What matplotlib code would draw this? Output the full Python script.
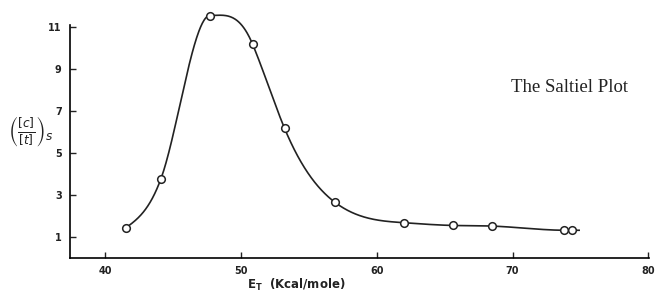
import numpy as np
import matplotlib
matplotlib.use("Agg")
import matplotlib.pyplot as plt

# data
e_t = [41.5, 44.1, 47.7, 50.85, 53.2, 56.9, 62.0, 65.6, 68.5, 73.8, 74.4]
ratio = [1.43, 3.78, 11.55, 10.18, 6.18, 2.66, 1.68, 1.55, 1.52, 1.32, 1.32]
x_ticks = [40, 50, 60, 70, 80]
y_ticks = [1, 3, 5, 7, 9, 11]


def smooth_curve(x, y, xs):
    # natural spline slopes, flattened at the maximum, then cubic hermite
    x = np.asarray(x, float)
    y = np.asarray(y, float)
    n = len(x)
    h = np.diff(x)
    d = np.diff(y) / h
    A = np.zeros((n, n))
    b = np.zeros(n)
    A[0, 0] = A[-1, -1] = 1
    for i in range(1, n - 1):
        A[i, i - 1] = h[i - 1]
        A[i, i] = 2 * (h[i - 1] + h[i])
        A[i, i + 1] = h[i]
        b[i] = 6 * (d[i] - d[i - 1])
    M = np.linalg.solve(A, b)
    m = np.zeros(n)
    m[:-1] = d - h * (2 * M[:-1] + M[1:]) / 6
    m[-1] = d[-1] + h[-1] * (M[-2] + 2 * M[-1]) / 6
    k = int(np.argmax(y))
    m[k] = 0.0

    ys = np.empty_like(xs)
    inside = xs <= x[-1]
    xi = xs[inside]
    idx = np.clip(np.searchsorted(x, xi) - 1, 0, n - 2)
    t = (xi - x[idx]) / h[idx]
    h00 = 2 * t**3 - 3 * t**2 + 1
    h10 = t**3 - 2 * t**2 + t
    h01 = -2 * t**3 + 3 * t**2
    h11 = t**3 - t**2
    ys[inside] = h00 * y[idx] + h10 * h[idx] * m[idx] + h01 * y[idx + 1] + h11 * h[idx] * m[idx + 1]
    ys[~inside] = y[-1] + m[-1] * (xs[~inside] - x[-1])
    return ys


fig = plt.figure(figsize=(6.58, 2.95), dpi=100)
ax = fig.add_axes([0.1064, 0.1254, 0.880, 0.790])

xs = np.linspace(e_t[0], 74.9, 800)
ax.plot(xs, smooth_curve(e_t, ratio, xs), color="#222222", lw=1.2, clip_on=False)
ax.plot(e_t, ratio, "o", ms=5.5, mfc="white", mec="#222222", mew=1.1, clip_on=False, zorder=3)

ax.set_xlim(37.4, 80.05)
ax.set_ylim(0, 11.1)
ax.set_xticks(x_ticks)
ax.set_yticks(y_ticks)
ax.tick_params(direction="in", length=4, width=1, labelsize=7, pad=6, colors="#222222")
for lab in ax.get_xticklabels() + ax.get_yticklabels():
    lab.set_fontweight("bold")
ax.spines["top"].set_visible(False)
ax.spines["right"].set_visible(False)
ax.spines["left"].set_linewidth(1.2)
ax.spines["bottom"].set_linewidth(1.2)

fig.text(0.451, 0.034, r"$\mathbf{E_T}$  (Kcal/mole)", fontsize=8.5, fontweight="bold",
         ha="center", va="center", color="#222222")
fig.text(0.047, 0.555, r"$\left(\frac{[c]}{[t]}\right)_s$", fontsize=12.5, ha="center", va="center", color="#222222")
fig.text(0.866, 0.702, "The Saltiel Plot", fontsize=13.5, family="Liberation Serif",
         ha="center", va="center", color="#222222")

fig.savefig("out.png", dpi=100)
